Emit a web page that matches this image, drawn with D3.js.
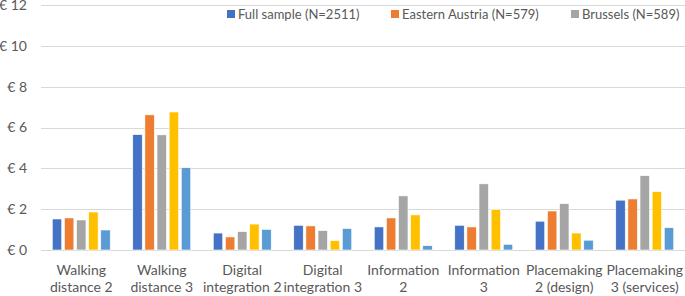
<!DOCTYPE html>
<html>
<head>
<meta charset="utf-8">
<script src="https://cdn.jsdelivr.net/npm/d3@7"></script>
<style>
  body { margin: 0; background: #fff; }
  svg { display: block; font-family: Lato, "Open Sans", sans-serif; }
</style>
</head>
<body>
<div id="chart"></div>
<script>
var categories = [
    ["Walking", "distance 2"],
    ["Walking", "distance 3"],
    ["Digital", "integration 2"],
    ["Digital", "integration 3"],
    ["Information", "2"],
    ["Information", "3"],
    ["Placemaking", "2 (design)"],
    ["Placemaking", "3 (services)"]
];
var seriesNames = ["Full sample (N=2511)", "Eastern Austria (N=579)", "Brussels (N=589)", "", ""];
var colors = ["#4472C4", "#ED7D31", "#A5A5A5", "#FFC000", "#5B9BD5"];

var fullSample     = [1.52, 5.65, 0.83, 1.21, 1.13, 1.21, 1.41, 2.44];
var easternAustria = [1.57, 6.62, 0.64, 1.18, 1.57, 1.13, 1.91, 2.50];
var brussels       = [1.47, 5.64, 0.90, 0.95, 2.65, 3.24, 2.27, 3.64];
var series4        = [1.86, 6.76, 1.27, 0.46, 1.72, 1.98, 0.83, 2.86];
var series5        = [0.98, 4.03, 1.01, 1.05, 0.21, 0.28, 0.48, 1.09];
var allSeries = [fullSample, easternAustria, brussels, series4, series5];

var yTicks = [0, 2, 4, 6, 8, 10, 12];

var width = 685, height = 296;
var margin = {left: 41, right: 0, top: 5, bottom: 46};

var svg = d3.select("#chart").append("svg")
    .attr("width", width).attr("height", height);

var y = d3.scaleLinear()
    .domain([0, 12])
    .range([height - margin.bottom, margin.top]);

var x0 = d3.scaleBand()
    .domain(d3.range(categories.length))
    .range([margin.left, width - margin.right])
    .paddingInner(0.28)
    .paddingOuter(0.14);

var x1 = d3.scaleBand()
    .domain(d3.range(allSeries.length))
    .range([0, x0.bandwidth()])
    .paddingInner(0.22);

// gridlines
svg.append("g").selectAll("line")
    .data(yTicks)
    .enter().append("line")
    .attr("x1", margin.left)
    .attr("x2", width - margin.right)
    .attr("y1", function(d){ return Math.round(y(d)) + 0.5; })
    .attr("y2", function(d){ return Math.round(y(d)) + 0.5; })
    .attr("stroke", "#d9d9d9")
    .attr("stroke-width", 1);

// y labels
svg.append("g").selectAll("text")
    .data(yTicks)
    .enter().append("text")
    .attr("x", 27)
    .attr("y", function(d){ return y(d); })
    .attr("dy", "0.35em")
    .attr("text-anchor", "end")
    .attr("fill", "#595959")
    .attr("font-size", 14)
    .text(function(d){ return "€ " + d; });

// bars
var groups = svg.append("g").selectAll("g")
    .data(categories)
    .enter().append("g")
    .attr("transform", function(d, i){ return "translate(" + x0(i) + ",0)"; });

groups.selectAll("rect")
    .data(function(d, i){ return allSeries.map(function(s, j){ return {s: j, v: s[i]}; }); })
    .enter().append("rect")
    .attr("x", function(d){ return x1(d.s); })
    .attr("width", x1.bandwidth())
    .attr("y", function(d){ return y(d.v); })
    .attr("height", function(d){ return y(0) - y(d.v); })
    .attr("fill", function(d){ return colors[d.s]; })
    .attr("stroke", "#fff")
    .attr("stroke-width", 0.6);

// x labels
var xl = svg.append("g").selectAll("text")
    .data(categories)
    .enter().append("text")
    .attr("x", function(d, i){ return x0(i) + x0.bandwidth() / 2; })
    .attr("y", 275)
    .attr("text-anchor", "middle")
    .attr("fill", "#595959")
    .attr("font-size", 14);
xl.each(function(d){
    var t = d3.select(this);
    d.forEach(function(line, k){
        t.append("tspan")
            .attr("x", t.attr("x"))
            .attr("dy", k === 0 ? 0 : 17)
            .text(line);
    });
});

// legend
var legendX = [227, 391, 571];
var legend = svg.append("g").selectAll("g")
    .data(seriesNames.slice(0, 3))
    .enter().append("g")
    .attr("transform", function(d, i){ return "translate(" + legendX[i] + ",14)"; });
legend.append("rect")
    .attr("x", 0).attr("y", -4)
    .attr("width", 8).attr("height", 8)
    .attr("fill", function(d, i){ return colors[i]; });
legend.append("text")
    .attr("x", 11)
    .attr("dy", "0.35em")
    .attr("fill", "#595959")
    .attr("font-size", 13)
    .text(function(d){ return d; });
</script>
</body>
</html>
